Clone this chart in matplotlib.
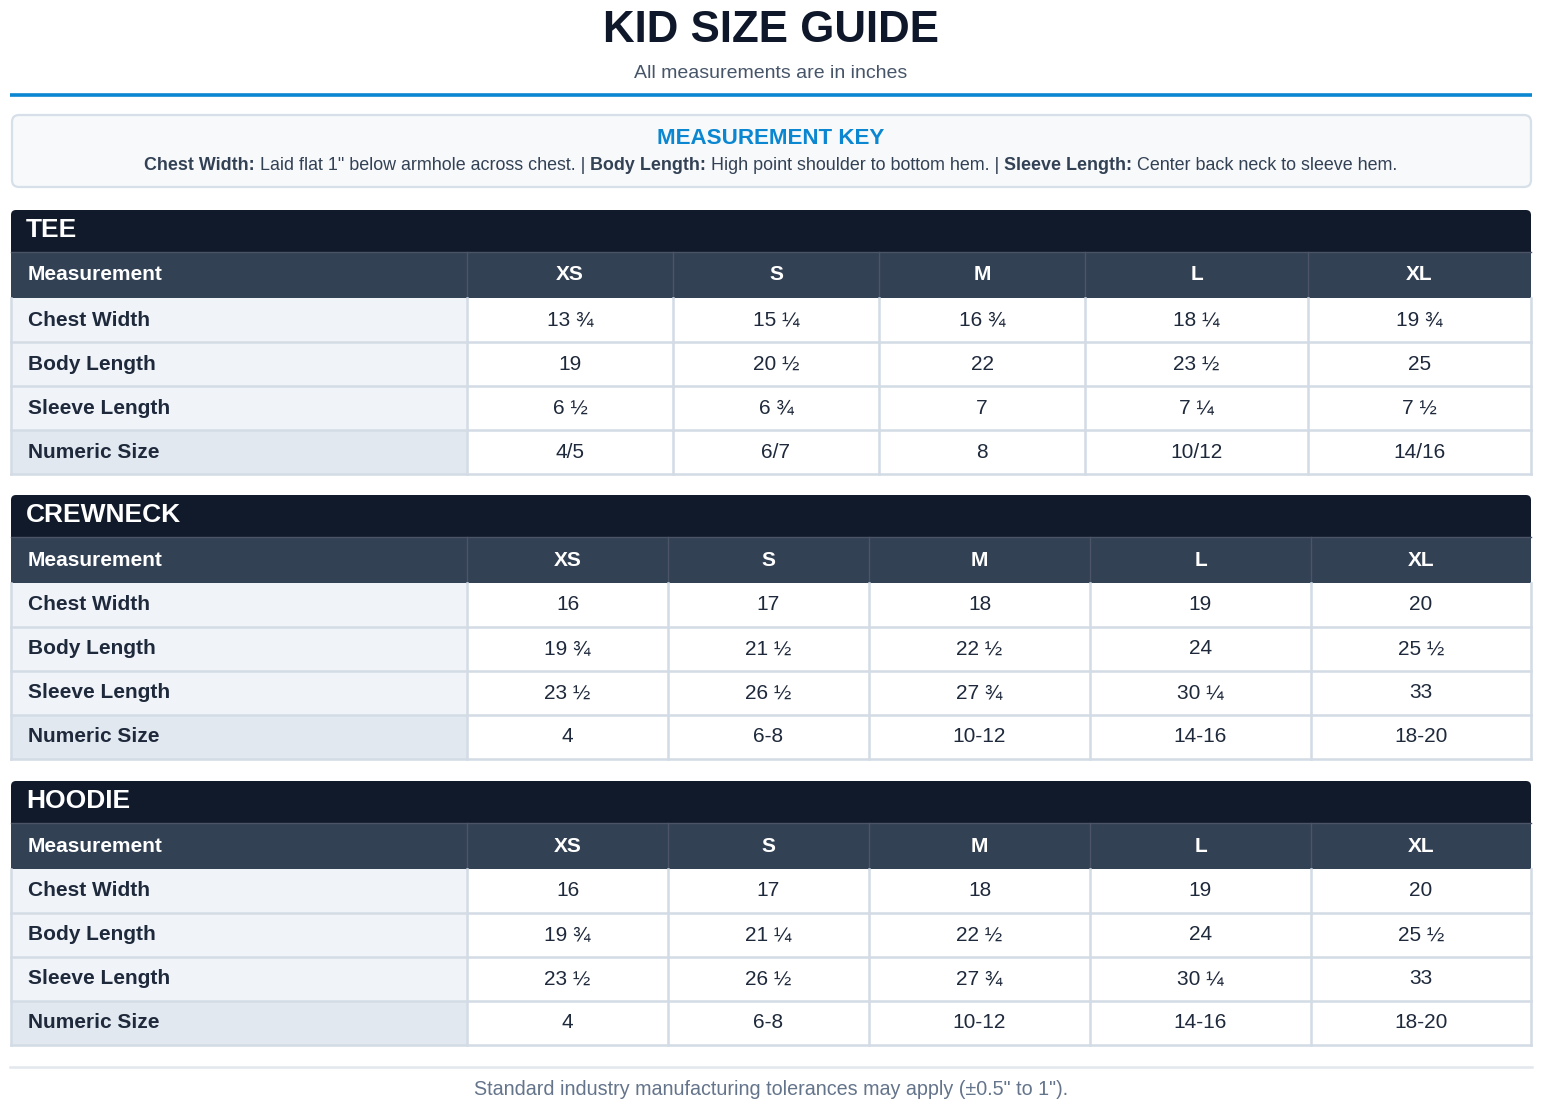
import matplotlib
matplotlib.use('Agg')
import matplotlib.pyplot as plt
from matplotlib.patches import Rectangle, FancyBboxPatch

plt.rcParams['font.family'] = ['Liberation Sans', 'DejaVu Sans']

# data
sizes = ['XS', 'S', 'M', 'L', 'XL']
measurements = ['Chest Width', 'Body Length', 'Sleeve Length', 'Numeric Size']
section_names = ['TEE', 'CREWNECK', 'HOODIE']

tee_values = [
    ['13 ¾', '15 ¼', '16 ¾', '18 ¼', '19 ¾'],
    ['19', '20 ½', '22', '23 ½', '25'],
    ['6 ½', '6 ¾', '7', '7 ¼', '7 ½'],
    ['4/5', '6/7', '8', '10/12', '14/16'],
]
crewneck_values = [
    ['16', '17', '18', '19', '20'],
    ['19 ¾', '21 ½', '22 ½', '24', '25 ½'],
    ['23 ½', '26 ½', '27 ¾', '30 ¼', '33'],
    ['4', '6-8', '10-12', '14-16', '18-20'],
]
hoodie_values = [
    ['16', '17', '18', '19', '20'],
    ['19 ¾', '21 ¼', '22 ½', '24', '25 ½'],
    ['23 ½', '26 ½', '27 ¾', '30 ¼', '33'],
    ['4', '6-8', '10-12', '14-16', '18-20'],
]
key_parts = [
    ('Chest Width:', True), (' Laid flat 1" below armhole across chest. | ', False),
    ('Body Length:', True), (' High point shoulder to bottom hem. | ', False),
    ('Sleeve Length:', True), (' Center back neck to sleeve hem.', False),
]

# layout (pixels)
W, H = 1544, 1107
left, right = 11, 1531
label_w = 456
tee_cols = [467, 673, 879, 1085, 1308, 1531]
wide_cols = [467, 668, 869, 1090, 1311, 1531]
table_tops = [210, 495, 781]
bar_h, head_h, row_h = 42, 46, 44

dark = '#111a2b'
slate = '#334155'
grid = '#d3dbe5'
label_bg = '#f0f4f9'
label_bg2 = '#e2e8f0'

fig = plt.figure(figsize=(W / 100, H / 100), dpi=100)
ax = fig.add_axes([0, 0, 1, 1])
ax.set_xlim(0, W)
ax.set_ylim(H, 0)
ax.axis('off')

# title block
ax.text(771, 42, 'KID SIZE GUIDE', ha='center', va='baseline', fontsize=31.6,
        fontweight='bold', color='#0f172a')
ax.text(771, 78, 'All measurements are in inches', ha='center', va='baseline',
        fontsize=14, color='#475569')
ax.plot([10, 1532], [95, 95], color='#0b86d1', lw=2.6, solid_capstyle='butt')

# measurement key box
ax.add_patch(FancyBboxPatch((12, 115), 1519, 72, boxstyle='round,pad=0,rounding_size=7',
                            fc='#f7f9fb', ec='#d7dfe8', lw=1.6))
ax.text(771, 144, 'MEASUREMENT KEY', ha='center', va='baseline', fontsize=16.1,
        fontweight='bold', color='#0b86d1')

fig.canvas.draw()
renderer = fig.canvas.get_renderer()
pieces = []
total = 0
for txt, bold in key_parts:
    t = ax.text(0, 170, txt, ha='left', va='baseline', fontsize=12.85,
                fontweight='bold' if bold else 'normal', color='#334155')
    w = t.get_window_extent(renderer).width
    pieces.append((t, w))
    total += w
x = 771 - total / 2
for t, w in pieces:
    t.set_x(x)
    x += w

# tables
all_values = [tee_values, crewneck_values, hoodie_values]
for name, vals, top in zip(section_names, all_values, table_tops):
    cols = tee_cols if name == 'TEE' else wide_cols
    ax.add_patch(FancyBboxPatch((left, top), right - left, bar_h + 8,
                                boxstyle='round,pad=0,rounding_size=5', fc=dark, ec='none'))
    ax.text(26, top + 27, name, ha='left', va='baseline', fontsize=19,
            fontweight='bold', color='white')
    hy = top + bar_h
    ax.add_patch(Rectangle((left, hy), right - left, head_h, fc=slate, ec='none'))
    ax.plot([left, right], [hy, hy], color='#4b5567', lw=1)
    ax.text(28, hy + head_h / 2 + 5.5, 'Measurement', ha='left', va='baseline', fontsize=15,
            fontweight='bold', color='white')
    for j, s in enumerate(sizes):
        cx = (cols[j] + cols[j + 1]) / 2
        ax.text(cx, hy + head_h / 2 + 5.5, s, ha='center', va='baseline', fontsize=15,
                fontweight='bold', color='white')
        ax.plot([cols[j], cols[j]], [hy, hy + head_h], color='#4b5567', lw=1)
    ry = hy + head_h
    for i, m in enumerate(measurements):
        y0 = ry + i * row_h
        ax.add_patch(Rectangle((left, y0), label_w, row_h,
                               fc=label_bg2 if m == 'Numeric Size' else label_bg, ec='none'))
        ax.add_patch(Rectangle((cols[0], y0), right - cols[0], row_h, fc='white', ec='none'))
        ax.text(28, y0 + row_h / 2 + 5.5, m, ha='left', va='baseline', fontsize=15,
                fontweight='bold', color='#1e293b')
        for j, v in enumerate(vals[i]):
            cx = (cols[j] + cols[j + 1]) / 2
            ax.text(cx, y0 + row_h / 2 + 5.5, v, ha='center', va='baseline', fontsize=15,
                    color='#1e293b')
        ax.plot([left, right], [y0 + row_h, y0 + row_h], color=grid, lw=1.8)
    bottom = ry + len(measurements) * row_h
    for c in cols:
        ax.plot([c, c], [ry, bottom], color=grid, lw=1.8)
    ax.plot([left, left], [ry, bottom], color=grid, lw=1.8)

# footer
ax.plot([10, 1532], [1067, 1067], color='#e3e8ee', lw=1.8)
ax.text(771, 1095, 'Standard industry manufacturing tolerances may apply (±0.5" to 1").',
        ha='center', va='baseline', fontsize=14.2, color='#64748b')

fig.savefig('out.png', dpi=100)
